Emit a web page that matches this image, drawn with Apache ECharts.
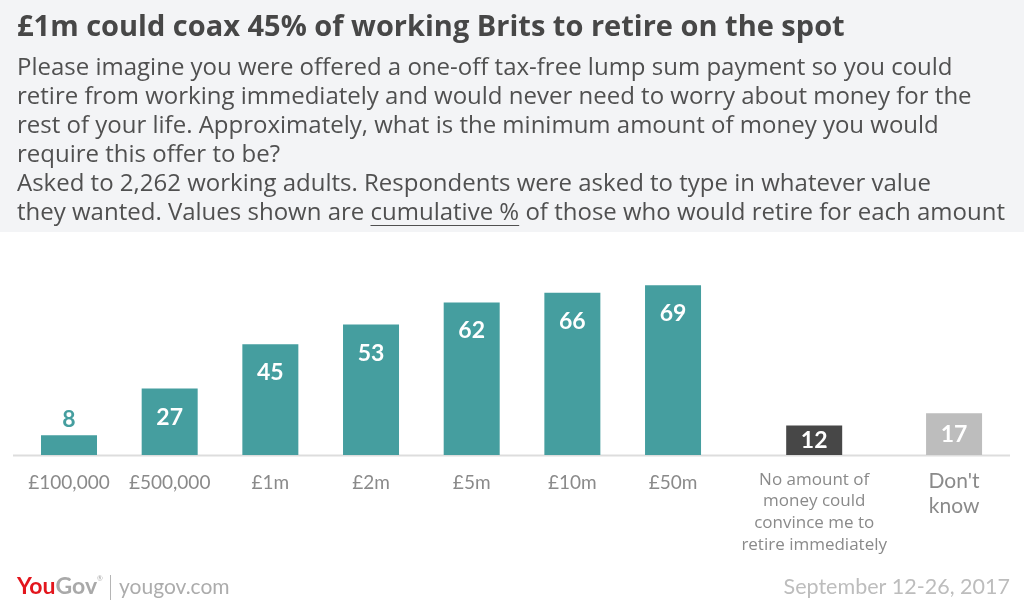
<!DOCTYPE html>
<html>
<head>
<meta charset="utf-8">
<script src="https://cdn.jsdelivr.net/npm/echarts@6/dist/echarts.min.js"></script>
<style>html,body{margin:0;padding:0;background:#fff}#c{width:1024px;height:607px}</style>
</head>
<body>
<div id="c"></div>
<script>
const titleText = '£1m could coax 45% of working Brits to retire on the spot';
const subtitleLines = [
  'Please imagine you were offered a one-off tax-free lump sum payment so you could',
  'retire from working immediately and would never need to worry about money for the',
  'rest of your life. Approximately, what is the minimum amount of money you would',
  'require this offer to be?',
  'Asked to 2,262 working adults. Respondents were asked to type in whatever value'
];
const lastLineParts = ['they wanted. Values shown are ', 'cumulative %', ' of those who would retire for each amount'];
const categoriesMain = ['£100,000', '£500,000', '£1m', '£2m', '£5m', '£10m', '£50m'];
const valuesMain = [8, 27, 45, 53, 62, 66, 69];
const categoriesOther = ['No amount of\nmoney could\nconvince me to\nretire immediately', "Don't\nknow"];
const valuesOther = [12, 17];
const sourceText = 'yougov.com';
const dateText = 'September 12-26, 2017';

const FONT = 'Lato, "Open Sans", sans-serif';
const SFONT = '"Open Sans", Lato, sans-serif';
const TEAL = '#459e9f';
const chart = echarts.init(document.getElementById('c'), null, {renderer: 'canvas'});

// measure text for underline
const ctx = document.createElement('canvas').getContext('2d');
const subFont = '24px "Open Sans"';
ctx.font = subFont;
const subX = 17;
const w0 = ctx.measureText(lastLineParts[0]).width;
const w1 = ctx.measureText(lastLineParts[1]).width;

const subY0 = 68, subLH = 29;
const graphics = [
  {type: 'rect', z: -10, shape: {x: 0, y: 0, width: 1024, height: 232}, style: {fill: '#f3f4f6'}},
  {type: 'text', x: 17, y: 28, style: {text: titleText, font: 'bold 29px ' + SFONT, fill: '#474747', verticalAlign: 'middle'}},
  {type: 'line', z: -5, shape: {x1: 13, y1: 455.5, x2: 1010, y2: 455.5}, style: {stroke: '#dddddd', lineWidth: 2}}
];
subtitleLines.forEach((t, i) => {
  graphics.push({type: 'text', x: subX, y: subY0 + i * subLH, style: {text: t, font: subFont + ', sans-serif', fill: '#505050', verticalAlign: 'middle'}});
});
const lastY = subY0 + 5 * subLH;
graphics.push({type: 'text', x: subX, y: lastY, style: {text: lastLineParts.join(''), font: subFont + ', sans-serif', fill: '#505050', verticalAlign: 'middle'}});
graphics.push({type: 'line', shape: {x1: subX + w0, y1: lastY + 12.5, x2: subX + w0 + w1, y2: lastY + 12.5}, style: {stroke: '#505050', lineWidth: 1.2}});
// footer
graphics.push({type: 'text', x: 17, y: 587, style: {text: '{r|You}{g|Gov}{s|®}', verticalAlign: 'middle', rich: {
  r: {font: 'bold 23px ' + FONT, fill: '#e3161d'},
  g: {font: 'bold 23px ' + FONT, fill: '#a9a9a9'},
  s: {font: '7px ' + FONT, fill: '#a9a9a9', verticalAlign: 'top', padding: [0, 0, 12, 0]}
}}});
graphics.push({type: 'line', shape: {x1: 110.5, y1: 575, x2: 110.5, y2: 600}, style: {stroke: '#b5b5b5', lineWidth: 1}});
graphics.push({type: 'text', x: 119, y: 587, style: {text: sourceText, font: '21px ' + FONT, fill: '#acacac', verticalAlign: 'middle'}});
graphics.push({type: 'text', x: 1010, y: 587, style: {text: dateText, font: '21.5px ' + FONT, fill: '#bdbdbd', verticalAlign: 'middle', align: 'right'}});

const labelBase = {show: true, fontFamily: FONT, fontWeight: 'bold', fontSize: 23, color: '#fff'};

const mainData = valuesMain.map((v, i) => ({
  value: v,
  label: i === 0 ? Object.assign({}, labelBase, {position: 'top', distance: 4, color: TEAL})
                 : Object.assign({}, labelBase, {position: 'insideTop', distance: 17})
}));
const otherColors = ['#474747', '#bdbdbd'];
const otherData = valuesOther.map((v, i) => ({
  value: v,
  itemStyle: {color: otherColors[i]},
  label: Object.assign({}, labelBase, {position: 'inside'})
}));

const otherCatData = [
  {value: categoriesOther[0], textStyle: {fontSize: 17, lineHeight: 21.7, fontFamily: SFONT}},
  {value: categoriesOther[1], textStyle: {fontSize: 21, lineHeight: 25}}
];

chart.setOption({
  animation: false,
  backgroundColor: '#ffffff',
  graphic: graphics,
  grid: [
    {left: 18.67, width: 704.7, top: 209, height: 246},
    {left: 744.25, width: 281, top: 209, height: 246}
  ],
  xAxis: [
    {type: 'category', gridIndex: 0, data: categoriesMain, axisLine: {show: false}, axisTick: {show: false},
     axisLabel: {color: '#8a8a8a', fontSize: 19, fontFamily: FONT, margin: 18, interval: 0}},
    {type: 'category', gridIndex: 1, data: otherCatData, axisLine: {show: false}, axisTick: {show: false},
     axisLabel: {color: '#8a8a8a', fontFamily: FONT, margin: 14, interval: 0}}
  ],
  yAxis: [
    {type: 'value', gridIndex: 0, min: 0, max: 100, show: false},
    {type: 'value', gridIndex: 1, min: 0, max: 100, show: false}
  ],
  series: [
    {type: 'bar', xAxisIndex: 0, yAxisIndex: 0, data: mainData, barWidth: 56, itemStyle: {color: TEAL}},
    {type: 'bar', xAxisIndex: 1, yAxisIndex: 1, data: otherData, barWidth: 56}
  ]
});
</script>
</body>
</html>
